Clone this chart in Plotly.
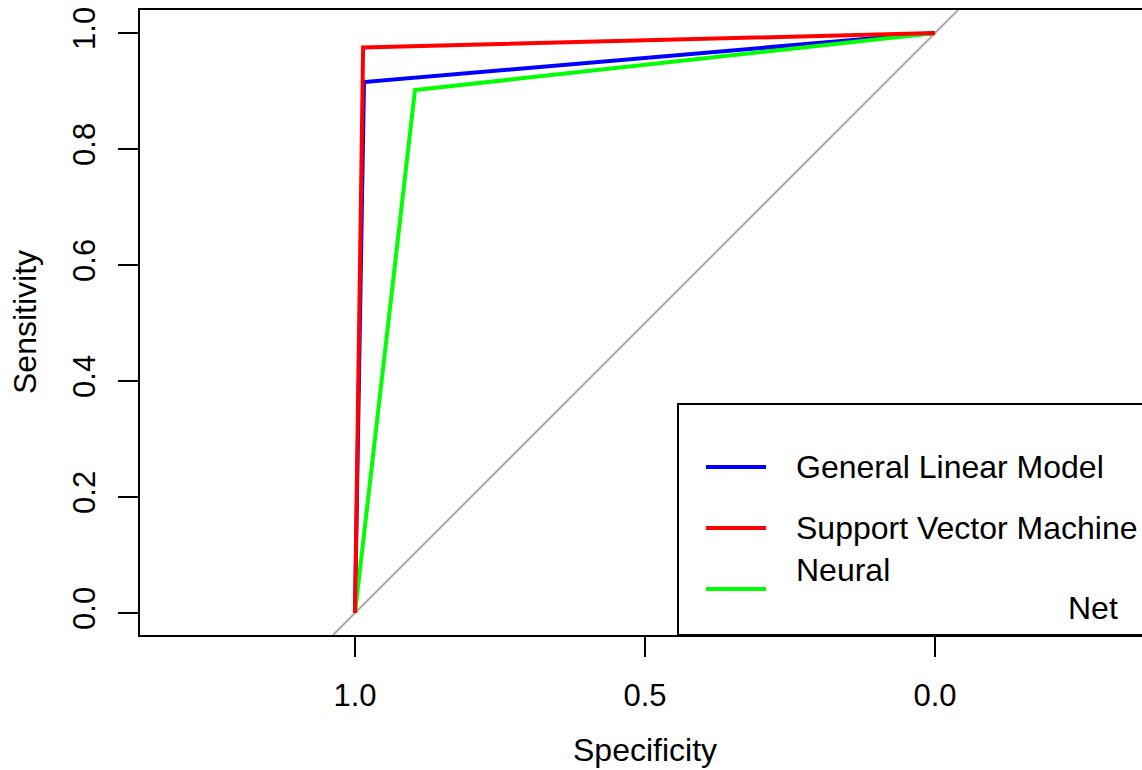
import plotly.graph_objects as go

# ---- data ----
model_names = ["General Linear Model", "Support Vector Machine", "Neural Net"]
model_colors = ["#0000FF", "#FF0000", "#00FF00"]
glm_spec = [1.0, 0.9845, 0.0]
glm_sens = [0.0, 0.9155, 1.0]
svm_spec = [1.0, 0.986, 0.0]
svm_sens = [0.0, 0.975, 1.0]
nn_spec = [1.0, 0.8966, 0.0]
nn_sens = [0.0, 0.9017, 1.0]
x_tick_vals = [1.0, 0.5, 0.0]
x_tick_text = ["1.0", "0.5", "0.0"]
y_tick_vals = [0.0, 0.2, 0.4, 0.6, 0.8, 1.0]
y_tick_text = ["0.0", "0.2", "0.4", "0.6", "0.8", "1.0"]

W, H = 1142, 770
ML, MT, MB, MR = 140, 10, 135, 0
x_range = [1.3707, -0.3569]
y_range = [-0.0379, 1.0397]

FONT = "Liberation Sans, Arial, sans-serif"
FS = 32
FS_TICK = 31

fig = go.Figure()

# identity diagonal across the plot region
fig.add_trace(go.Scatter(
    x=[1 - y_range[0], 1 - y_range[1]], y=[y_range[0], y_range[1]],
    mode="lines", line=dict(color="#A9A9A9", width=2), showlegend=False,
    hoverinfo="skip"))

series = [
    (glm_spec, glm_sens, 0),
    (nn_spec, nn_sens, 2),
    (svm_spec, svm_sens, 1),
]
for xs, ys, i in series:
    fig.add_trace(go.Scatter(
        x=xs, y=ys, mode="lines", name=model_names[i],
        line=dict(color=model_colors[i], width=4), showlegend=False))

pw = W - ML - MR
ph = H - MT - MB

def px(xp):
    return (xp - ML) / pw

def py(yp):
    return (H - MB - yp) / ph

shapes = []
annotations = []

# legend box
shapes.append(dict(type="rect", xref="paper", yref="paper",
                   x0=px(678), x1=px(1160), y0=py(635), y1=py(404),
                   line=dict(color="black", width=2), fillcolor="white",
                   layer="above"))
legend_y = [467, 528, 589]
for i, yy in enumerate(legend_y):
    shapes.append(dict(type="line", xref="paper", yref="paper",
                       x0=px(706), x1=px(766), y0=py(yy), y1=py(yy),
                       line=dict(color=model_colors[i], width=4),
                       layer="above"))

tfont = dict(family=FONT, size=FS, color="black")
annotations.append(dict(text=model_names[0], xref="paper", yref="paper",
                        x=px(794), y=py(467), xanchor="left", yanchor="middle",
                        showarrow=False, font=tfont))
annotations.append(dict(text=model_names[1], xref="paper", yref="paper",
                        x=px(794), y=py(528), xanchor="left", yanchor="middle",
                        showarrow=False, font=tfont))
nn_words = model_names[2].split(" ")
annotations.append(dict(text=nn_words[0], xref="paper", yref="paper",
                        x=px(794), y=py(570), xanchor="left", yanchor="middle",
                        showarrow=False, font=tfont))
annotations.append(dict(text=nn_words[1], xref="paper", yref="paper",
                        x=px(1120), y=py(608), xanchor="right", yanchor="middle",
                        showarrow=False, font=tfont))

# axis titles
annotations.append(dict(text="Specificity", xref="paper", yref="paper",
                        x=px(645), y=py(750), xanchor="center", yanchor="middle",
                        showarrow=False, font=tfont))
annotations.append(dict(text="Sensitivity", xref="paper", yref="paper",
                        x=px(25), y=py(322), xanchor="center", yanchor="middle",
                        textangle=-90, showarrow=False, font=tfont))

fig.update_layout(
    width=W, height=H,
    margin=dict(l=ML, r=MR, t=MT, b=MB, pad=0),
    paper_bgcolor="white", plot_bgcolor="white",
    font=dict(family=FONT, size=FS_TICK, color="black"),
    shapes=shapes, annotations=annotations,
    xaxis=dict(range=x_range, tickvals=x_tick_vals, ticktext=x_tick_text,
               showgrid=False, zeroline=False, showline=True, mirror=True,
               linecolor="black", linewidth=2, ticks="outside", ticklen=20,
               tickwidth=2, tickcolor="black", ticklabelstandoff=12,
               tickfont=dict(family=FONT, size=FS_TICK, color="black")),
    yaxis=dict(range=y_range, tickvals=y_tick_vals, ticktext=y_tick_text,
               showgrid=False, zeroline=False, showline=True, mirror=False,
               linecolor="black", linewidth=2, ticks="outside", ticklen=20,
               tickwidth=2, tickcolor="black", tickangle=-90,
               ticklabelstandoff=11,
               tickfont=dict(family=FONT, size=FS_TICK, color="black")),
)

fig.write_html("out.html")
